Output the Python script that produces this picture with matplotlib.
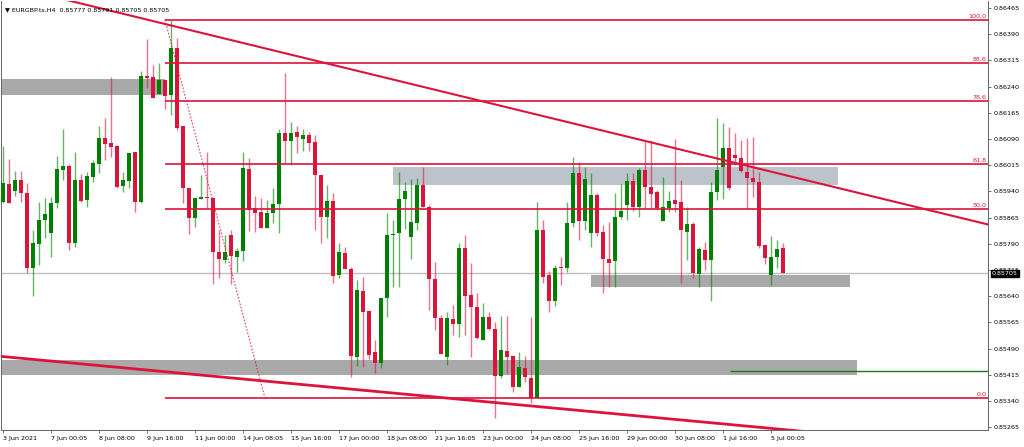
import matplotlib
matplotlib.use("Agg")
import matplotlib.pyplot as plt
from matplotlib.transforms import blended_transform_factory

# EURGBP H4 candles
opens = [0.85910, 0.85961, 0.85941, 0.85972, 0.85935, 0.85720, 0.85789, 0.85858, 0.85821, 0.85907,
         0.86001, 0.86013, 0.85792, 0.85972, 0.85915, 0.85981, 0.86018, 0.86093, 0.86078, 0.86070,
         0.85955, 0.85970, 0.86053, 0.85910, 0.86270, 0.86268, 0.86219, 0.86259, 0.86216, 0.86351,
         0.86127, 0.85950, 0.85864, 0.85918, 0.85924, 0.85921, 0.85766, 0.85743, 0.85815, 0.85752,
         0.85769, 0.86004, 0.85892, 0.85881, 0.85835, 0.85878, 0.85904, 0.86107, 0.86084, 0.86110,
         0.86090, 0.86101, 0.86081, 0.85987, 0.85867, 0.85912, 0.85700, 0.85763, 0.85718, 0.85466,
         0.85655, 0.85597, 0.85480, 0.85448, 0.85635, 0.85815, 0.85821, 0.85918, 0.85809, 0.85849,
         0.85958, 0.85895, 0.85689, 0.85577, 0.85466, 0.85574, 0.85560, 0.85778, 0.85643, 0.85609,
         0.85514, 0.85580, 0.85546, 0.85411, 0.85483, 0.85468, 0.85380, 0.85434, 0.85405, 0.85348,
         0.85829, 0.85700, 0.85626, 0.85723, 0.85720, 0.85849, 0.85993, 0.85855, 0.85821, 0.85930,
         0.85824, 0.85746, 0.85741, 0.85867, 0.85901, 0.85970, 0.85895, 0.86001, 0.85952, 0.85938,
         0.85855, 0.85892, 0.85915, 0.85910, 0.85824, 0.85847, 0.85703, 0.85772, 0.85743, 0.85938,
         0.86010, 0.86064, 0.86044, 0.86035, 0.85995, 0.85978, 0.85967, 0.85786, 0.85700, 0.85752,
         0.85777]
highs = [0.86070, 0.86033, 0.85998, 0.85998, 0.85964, 0.85829, 0.85910, 0.85921, 0.85924, 0.86041,
         0.86119, 0.86018, 0.86053, 0.85990, 0.85995, 0.86030, 0.86127, 0.86150, 0.86268, 0.86073,
         0.85995, 0.86050, 0.86053, 0.86285, 0.86376, 0.86302, 0.86308, 0.86259, 0.86431, 0.86379,
         0.86127, 0.85950, 0.85921, 0.85987, 0.86053, 0.85921, 0.85829, 0.85815, 0.85829, 0.85778,
         0.86053, 0.86035, 0.85927, 0.85921, 0.85915, 0.85950, 0.86119, 0.86279, 0.86139, 0.86127,
         0.86119, 0.86110, 0.86101, 0.85987, 0.85958, 0.85935, 0.85792, 0.85781, 0.85723, 0.85686,
         0.85695, 0.85597, 0.85514, 0.85635, 0.85878, 0.85858, 0.85995, 0.85967, 0.85975, 0.85978,
         0.86010, 0.85901, 0.85738, 0.85586, 0.85594, 0.85615, 0.85792, 0.85815, 0.85735, 0.85649,
         0.85620, 0.85594, 0.85566, 0.85583, 0.85583, 0.85468, 0.85480, 0.85468, 0.85580, 0.85910,
         0.85858, 0.85712, 0.85729, 0.85752, 0.85910, 0.86038, 0.86024, 0.86010, 0.85993, 0.85935,
         0.85844, 0.85852, 0.85935, 0.85961, 0.85993, 0.85993, 0.86007, 0.86081, 0.86087, 0.85944,
         0.85981, 0.85941, 0.86090, 0.85972, 0.85895, 0.85852, 0.85781, 0.85795, 0.85967, 0.86150,
         0.86136, 0.86124, 0.86107, 0.86087, 0.86093, 0.86096, 0.85995, 0.85786, 0.85812, 0.85801,
         0.85791]
lows = [0.85907, 0.85907, 0.85927, 0.85910, 0.85706, 0.85640, 0.85729, 0.85806, 0.85752, 0.85892,
        0.85972, 0.85772, 0.85781, 0.85910, 0.85895, 0.85967, 0.85993, 0.86030, 0.86038, 0.85950,
        0.85938, 0.85950, 0.85881, 0.85907, 0.86236, 0.86207, 0.86219, 0.86176, 0.86159, 0.86116,
        0.85907, 0.85818, 0.85838, 0.85918, 0.85892, 0.85675, 0.85692, 0.85735, 0.85675, 0.85709,
        0.85741, 0.85826, 0.85824, 0.85835, 0.85835, 0.85849, 0.85821, 0.86021, 0.86015, 0.86050,
        0.86056, 0.86056, 0.85829, 0.85792, 0.85806, 0.85677, 0.85692, 0.85718, 0.85408, 0.85440,
        0.85437, 0.85460, 0.85420, 0.85434, 0.85580, 0.85666, 0.85666, 0.85832, 0.85746, 0.85829,
        0.85895, 0.85600, 0.85543, 0.85474, 0.85443, 0.85529, 0.85523, 0.85529, 0.85466, 0.85517,
        0.85514, 0.85543, 0.85291, 0.85405, 0.85417, 0.85365, 0.85380, 0.85394, 0.85334, 0.85348,
        0.85677, 0.85594, 0.85612, 0.85672, 0.85709, 0.85838, 0.85801, 0.85829, 0.85781, 0.85812,
        0.85649, 0.85666, 0.85666, 0.85861, 0.85858, 0.85884, 0.85867, 0.85892, 0.85892, 0.85887,
        0.85855, 0.85881, 0.85881, 0.85677, 0.85743, 0.85692, 0.85666, 0.85715, 0.85626, 0.85915,
        0.85918, 0.85944, 0.86015, 0.85995, 0.85889, 0.85924, 0.85778, 0.85732, 0.85672, 0.85720,
        0.85705]
closes = [0.85964, 0.85907, 0.85972, 0.85935, 0.85720, 0.85792, 0.85858, 0.85875, 0.85907, 0.86004,
          0.86013, 0.85792, 0.85972, 0.85912, 0.85984, 0.86021, 0.86093, 0.86076, 0.86067, 0.85952,
          0.85972, 0.86050, 0.85910, 0.86270, 0.86265, 0.86207, 0.86259, 0.86213, 0.86351, 0.86121,
          0.85950, 0.85864, 0.85921, 0.85924, 0.85921, 0.85766, 0.85746, 0.85766, 0.85755, 0.85769,
          0.86007, 0.85887, 0.85878, 0.85835, 0.85878, 0.85904, 0.86107, 0.86084, 0.86107, 0.86096,
          0.86101, 0.86078, 0.85987, 0.85867, 0.85912, 0.85698, 0.85766, 0.85718, 0.85468, 0.85657,
          0.85594, 0.85471, 0.85448, 0.85635, 0.85815, 0.85818, 0.85918, 0.85941, 0.85852, 0.85958,
          0.85895, 0.85689, 0.85577, 0.85474, 0.85577, 0.85560, 0.85778, 0.85640, 0.85609, 0.85520,
          0.85580, 0.85546, 0.85411, 0.85486, 0.85466, 0.85380, 0.85437, 0.85408, 0.85348, 0.85829,
          0.85695, 0.85626, 0.85720, 0.85720, 0.85849, 0.85993, 0.85855, 0.85975, 0.85930, 0.85821,
          0.85746, 0.85735, 0.85867, 0.85884, 0.85970, 0.85895, 0.86001, 0.85952, 0.85932, 0.85892,
          0.85895, 0.85912, 0.85904, 0.85829, 0.85847, 0.85706, 0.85775, 0.85743, 0.85938, 0.86001,
          0.86064, 0.85950, 0.86035, 0.85998, 0.85978, 0.85967, 0.85784, 0.85749, 0.85752, 0.85775,
          0.85705]

date_ticks = [0, 8, 16, 24, 32, 40, 48, 56, 64, 72, 80, 88, 96, 104, 112, 120, 128]
date_labels = ["3 Jun 2021", "7 Jun 00:05", "8 Jun 08:00", "9 Jun 16:00", "11 Jun 00:00",
               "14 Jun 08:05", "15 Jun 16:00", "17 Jun 00:00", "18 Jun 08:00", "21 Jun 16:05",
               "23 Jun 00:00", "24 Jun 08:00", "25 Jun 16:00", "29 Jun 00:00", "30 Jun 08:00",
               "1 Jul 16:00", "5 Jul 00:05"]
price_ticks = [0.86465, 0.86390, 0.86315, 0.86240, 0.86165, 0.86090, 0.86015, 0.85940, 0.85865,
               0.85790, 0.85715, 0.85640, 0.85565, 0.85490, 0.85415, 0.85340, 0.85265]

fib_levels = [0.0, 50.0, 61.8, 78.6, 88.6, 100.0]
fib_low = 0.85348
fib_high = 0.86431
last_price = 0.85705
support_line = 0.85425

# zones: (bar from, bar to, price low, price high, colour)
zones = [(-1, 27, 0.86216, 0.86262, "#a9a9a9"),
         (65, 139.2, 0.85958, 0.86010, "#bcc3cb"),
         (98, 141.2, 0.85666, 0.85700, "#a9a9a9"),
         (-1, 142.3, 0.85414, 0.85457, "#a9a9a9")]
# trend lines: ((bar, price), (bar, price), width)
down_trend = [(12, 0.86482), (164.5, 0.85844), 1.5]
low_trend = [(-0.5, 0.85468), (132.8, 0.85254), 2.0]
fib_swing = [(27, 0.86431), (43.67, 0.85348)]

BULL = "#008000"
BEAR = "#dc143c"
FS = 4.6

fig = plt.figure(figsize=(10.24, 4.47), dpi=100)
ax = fig.add_axes([1 / 1024, 17 / 447, 987 / 1024, 429 / 447])
ax.set_xlim(-0.33, 164.2)
ax.set_ylim(0.85257, 0.86485)

for x0, x1, y0, y1, c in zones:
    ax.fill_between([x0, x1], y0, y1, color=c, lw=0, zorder=1)

ax.axhline(last_price, color="#c0c0c0", lw=1, zorder=1.5)
ax.hlines(support_line, 121.2, 170, color="#1f7a1f", lw=1, zorder=4)

for i in range(len(opens)):
    o, h, l, c = opens[i], highs[i], lows[i], closes[i]
    col = BULL if c >= o else BEAR
    ax.vlines(i, l, h, color=col, lw=1.0, alpha=0.6, zorder=3)
    ax.bar(i, max(abs(c - o), 0.00002), bottom=min(o, c), width=0.64, color=col, lw=0, zorder=3)

for lev in fib_levels:
    p = fib_low + (fib_high - fib_low) * lev / 100
    ax.hlines(p, 27, 170, color=BEAR, lw=1.2, zorder=4)
    ax.text(163.9, p + 0.00003, "%.1f" % lev, color=BEAR, fontsize=FS, ha="right", va="bottom", zorder=5)

(xa, ya), (xb, yb) = fib_swing
ax.plot([xa, xb], [ya, yb], color=BEAR, lw=0.8, ls=(0, (1.5, 1.5)), alpha=0.8, zorder=4)

for (xa, ya), (xb, yb), w in [down_trend, low_trend]:
    k = (yb - ya) / (xb - xa)
    ax.plot([-5, 175], [ya + k * (-5 - xa), ya + k * (175 - xa)], color=BEAR, lw=w, zorder=4)

ax.yaxis.tick_right()
ax.set_yticks(price_ticks)
ax.set_yticklabels(["%.5f" % p for p in price_ticks])
ax.set_xticks(date_ticks)
ax.set_xticklabels(date_labels)
for lab in ax.get_xticklabels():
    lab.set_horizontalalignment("left")
ax.tick_params(axis="both", labelsize=FS, length=2.5, width=0.5, pad=1.5, color="#333333")

for s in ["left", "right", "bottom"]:
    ax.spines[s].set_color("#666666")
    ax.spines[s].set_linewidth(0.7)
ax.spines["top"].set_visible(False)

tr = blended_transform_factory(ax.transAxes, ax.transData)
ax.text(1.004, last_price, "%.5f" % last_price, transform=tr, fontsize=FS, color="white",
        va="center", ha="left", zorder=10, clip_on=False,
        bbox=dict(facecolor="black", edgecolor="black", pad=0.8))

ax.text(0.004, 0.985, "\u25bc EURGBP.ts,H4  %.5f %.5f %.5f %.5f" % (opens[-1], highs[-1], lows[-1], closes[-1]),
        transform=ax.transAxes, fontsize=FS, va="top", ha="left", zorder=10)

fig.savefig("out.png", dpi=100)
